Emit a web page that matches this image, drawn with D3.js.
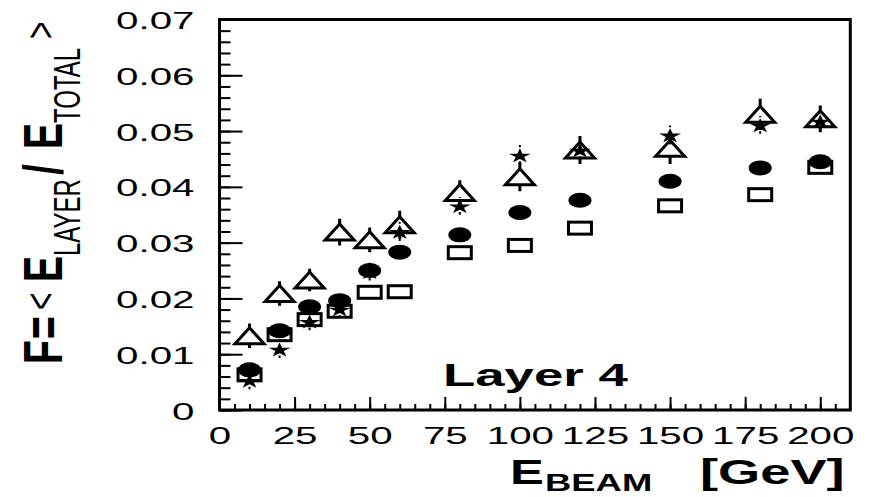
<!DOCTYPE html>
<html>
<head>
<meta charset="utf-8">
<script src="https://cdn.jsdelivr.net/npm/d3@7"></script>
<style>
  body { margin: 0; background: #fff; }
  text { font-family: "Liberation Sans", Arial, sans-serif; fill: #000; }
</style>
</head>
<body>
<svg width="872" height="497"></svg>
<script>
// Beam energies (GeV)
const energies = [10, 20, 30, 40, 50, 60, 80, 100, 120, 150, 180, 200];

// F = <E_layer / E_total> for the four samples
const triangleF   = [0.0133, 0.0209, 0.0233, 0.0319, 0.0305, 0.0332, 0.0390, 0.0418, 0.0466, 0.0469, 0.0530, 0.0522];
const triangleErr = [0.0022, 0.0022, 0.0020, 0.0024, 0.0022, 0.0025, 0.0022, 0.0026, 0.0025, 0.0028, 0.0028, 0.0024];
const starF       = [0.0053, 0.0109, 0.0159, 0.0181, 0.0248, 0.0320, 0.0366, 0.0457, 0.0466, 0.0493, 0.0511, 0.0518];
const starErr     = [0.0016, 0.0016, 0.0016, 0.0016, 0.0016, 0.0017, 0.0016, 0.0018, 0.0016, 0.0017, 0.0016, 0.0016];
const circleF     = [0.0072, 0.0142, 0.0185, 0.0196, 0.0250, 0.0283, 0.0314, 0.0354, 0.0376, 0.0410, 0.0434, 0.0445];
const squareF     = [0.0063, 0.0135, 0.0162, 0.0177, 0.0211, 0.0212, 0.0282, 0.0295, 0.0326, 0.0366, 0.0386, 0.0435];

// Axis ticks
const xTicks = [0, 25, 50, 75, 100, 125, 150, 175, 200];
const xMinorTicks = d3.range(0, 206, 5);
const yTicks = [0, 0.01, 0.02, 0.03, 0.04, 0.05, 0.06, 0.07];
const yTickLabels = ["0", "0.01", "0.02", "0.03", "0.04", "0.05", "0.06", "0.07"];
const yMinorTicks = d3.range(0, 36).map(i => i * 0.002);

const svg = d3.select("svg");

// Frame of the plot
const frame = { left: 219.5, right: 850.3, top: 19.5, bottom: 410 };

const x = d3.scaleLinear().domain([0, 210]).range([frame.left, frame.right]);
const y = d3.scaleLinear().domain([0, 0.07]).range([frame.bottom, frame.top]);

// horizontal stretch of every text (the original picture was stretched)
const stretch = 1.68;

// Minor ticks
svg.append("g")
    .attr("transform", `translate(0,${frame.bottom})`)
    .call(d3.axisBottom(x).tickValues(xMinorTicks).tickSize(-6).tickFormat(""))
    .call(g => g.select(".domain").remove())
    .call(g => g.selectAll("line").attr("stroke-width", 2));

svg.append("g")
    .attr("transform", `translate(${frame.left},0)`)
    .call(d3.axisLeft(y).tickValues(yMinorTicks).tickSize(-11).tickFormat(""))
    .call(g => g.select(".domain").remove())
    .call(g => g.selectAll("line").attr("stroke-width", 2));

// Major ticks + labels
svg.append("g")
    .attr("transform", `translate(0,${frame.bottom})`)
    .call(d3.axisBottom(x).tickValues(xTicks).tickSize(-13).tickFormat(d3.format("d")))
    .call(g => g.select(".domain").remove())
    .call(g => g.selectAll("line").attr("stroke-width", 2))
    .call(g => g.selectAll("text")
        .attr("y", null).attr("dy", null)
        .attr("font-size", 24)
        .attr("font-family", "Liberation Sans, Arial, sans-serif")
        .attr("text-anchor", "middle")
        .attr("transform", `translate(0,34) scale(${stretch},1)`));

svg.append("g")
    .attr("transform", `translate(${frame.left},0)`)
    .call(d3.axisLeft(y).tickValues(yTicks).tickSize(-23).tickFormat((d, i) => yTickLabels[i]))
    .call(g => g.select(".domain").remove())
    .call(g => g.selectAll("line").attr("stroke-width", 2))
    .call(g => g.selectAll("text")
        .attr("x", null).attr("dy", null)
        .attr("font-size", 24)
        .attr("font-family", "Liberation Sans, Arial, sans-serif")
        .attr("text-anchor", "end")
        .attr("transform", `translate(-25,9) scale(${stretch},1)`));

// Frame
svg.append("rect")
    .attr("x", frame.left).attr("y", frame.top)
    .attr("width", frame.right - frame.left)
    .attr("height", frame.bottom - frame.top)
    .attr("fill", "none")
    .attr("stroke", "#000")
    .attr("stroke-width", 3);

const pts = (vals, errs) => energies.map((e, i) => ({ e, v: vals[i], err: errs ? errs[i] : 0 }));

// Squares (open)
svg.append("g").selectAll("rect")
  .data(pts(squareF))
  .join("rect")
    .attr("x", d => x(d.e) - 11.5)
    .attr("y", d => y(d.v) - 6)
    .attr("width", 23)
    .attr("height", 12)
    .attr("fill", "none")
    .attr("stroke", "#000")
    .attr("stroke-width", 3);

// Filled ellipses
svg.append("g").selectAll("ellipse")
  .data(pts(circleF))
  .join("ellipse")
    .attr("cx", d => x(d.e))
    .attr("cy", d => y(d.v))
    .attr("rx", 11.5)
    .attr("ry", 7.5)
    .attr("fill", "#000");

// Stars with small error bars
const starHalf = 7.7;
const starG = svg.append("g");
starG.selectAll("path.err")
  .data(pts(starF, starErr))
  .join("path")
    .attr("class", "err")
    .attr("d", d => `M${x(d.e)},${y(d.v + d.err)}V${y(d.v) - starHalf}M${x(d.e)},${y(d.v) + starHalf * 0.81}V${y(d.v - d.err)}`)
    .attr("stroke", "#000")
    .attr("stroke-width", 2);
starG.selectAll("path.star")
  .data(pts(starF))
  .join("path")
    .attr("class", "star")
    .attr("d", d3.symbol(d3.symbolStar, starHalf * starHalf / 0.8908130915292852))
    .attr("transform", d => `translate(${x(d.e)},${y(d.v) + 1}) scale(1.5,1)`)
    .attr("fill", "#000");

// Open triangles with error bars
const triW = 14.5, triH = 8;
const triG = svg.append("g");
triG.selectAll("path.err")
  .data(pts(triangleF, triangleErr))
  .join("path")
    .attr("class", "err")
    .attr("d", d => `M${x(d.e)},${y(d.v + d.err)}V${y(d.v) - triH}M${x(d.e)},${y(d.v) + triH}V${y(d.v - d.err)}`)
    .attr("stroke", "#000")
    .attr("stroke-width", 3);
triG.selectAll("path.tri")
  .data(pts(triangleF))
  .join("path")
    .attr("class", "tri")
    .attr("d", d => `M${x(d.e)},${y(d.v) - triH}L${x(d.e) + triW},${y(d.v) + triH}L${x(d.e) - triW},${y(d.v) + triH}Z`)
    .attr("fill", "none")
    .attr("stroke", "#000")
    .attr("stroke-width", 3)
    .attr("stroke-linejoin", "miter");

// "Layer 4"
svg.append("text")
    .attr("transform", `translate(443,386) scale(1.65,1)`)
    .attr("font-size", 32)
    .attr("font-weight", "bold")
    .text("Layer 4");

// X axis title
const xt = (txt, px, py, size, weight, k) => svg.append("text")
    .attr("transform", `translate(${px},${py}) scale(${k},1)`)
    .attr("font-size", size)
    .attr("font-weight", weight)
    .text(txt);
xt("E", 510, 484, 35, "bold", 1.45);
xt("BEAM", 545, 491, 23.5, "bold", 1.55);
xt("[GeV]", 700, 484, 35, "bold", 1.55);

// Y axis title, rotated pieces placed along the left margin
const yt = (txt, bx, by, size, weight, k) => svg.append("text")
    .attr("transform", `translate(${bx},${by}) scale(${k},1) rotate(-90)`)
    .attr("font-size", size)
    .attr("font-weight", weight)
    .text(txt);
yt("F", 62, 364, 39, "bold", 1.43);
yt("=", 62, 339, 39, "bold", 1.43);
yt("<", 55, 310, 30, "normal", 1.43);
yt("E", 62, 282, 39, "bold", 1.43);
yt("LAYER", 80, 256, 24, "normal", 1.57);
yt("/", 62, 175, 39, "bold", 1.43);
yt("E", 62, 149, 39, "bold", 1.43);
yt("TOTAL", 80, 123, 24, "normal", 1.57);
yt(">", 55, 39, 30, "normal", 1.43);
</script>
</body>
</html>
